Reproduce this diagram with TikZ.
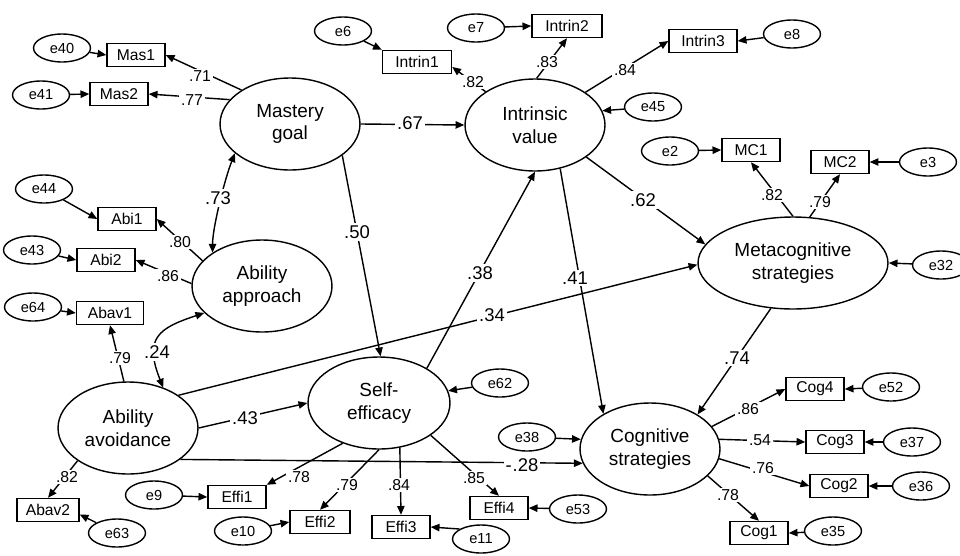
\documentclass[tikz,border=0pt]{standalone}
\usepackage{fontspec}
\setmainfont{Liberation Sans}
\usetikzlibrary{arrows.meta,shapes.geometric}

\tikzset{
  latent/.style={ellipse, draw, line width=0.8pt, inner sep=0pt,
    minimum width=2.8cm, minimum height=1.84cm, align=center,
    font=\fontsize{10.8}{12.8}\selectfont},
  errvar/.style={ellipse, draw, line width=0.8pt, inner sep=0pt,
    minimum width=1.14cm, minimum height=0.56cm,
    font=\fontsize{8.3}{10}\selectfont},
  obsbox/.style={rectangle, draw, line width=0.8pt, inner sep=0pt,
    minimum width=1.16cm, minimum height=0.46cm,
    font=\fontsize{8.9}{10}\selectfont},
  regarrow/.style={line width=0.8pt, -{Triangle[length=5pt,width=4.2pt]}},
  covarrow/.style={line width=0.8pt,
    {Triangle[length=5pt,width=4.2pt]}-{Triangle[length=5pt,width=4.2pt]}},
  coeflab/.style={fill=white, inner sep=1.2pt, font=\fontsize{10.5}{12}\selectfont},
  loadlab/.style={fill=white, inner sep=1pt, font=\fontsize{9}{10}\selectfont},
}

\begin{document}
\begin{tikzpicture}[x=0.02cm, y=-0.02cm]
\useasboundingbox (0,0) rectangle (960,555);

% latent constructs
\node[latent] (mastery)   at (290,124) {Mastery\\goal};
\node[latent] (intrinsic) at (535,125) {Intrinsic\\value};
\node[latent, minimum width=3.8cm] (meta) at (793,263) {Metacognitive\\strategies};
\node[latent] (approach)  at (262,286) {Ability\\approach};
\node[latent] (avoid)     at (128,428) {Ability\\avoidance};
\node[latent, minimum width=2.84cm] (selfeff) at (379,403) {Self-\\efficacy};
\node[latent] (cognitive) at (650,449) {Cognitive\\strategies};

% observed indicators
\node[obsbox] (mas1) at (136,55) {Mas1};
\node[obsbox] (mas2) at (119,94) {Mas2};
\node[obsbox, minimum width=1.38cm] (intrin1) at (417,62) {Intrin1};
\node[obsbox, minimum width=1.40cm] (intrin2) at (567,26) {Intrin2};
\node[obsbox, minimum width=1.36cm] (intrin3) at (703,41) {Intrin3};
\node[obsbox] (mc1) at (751,150) {MC1};
\node[obsbox] (mc2) at (840,162) {MC2};
\node[obsbox] (abi1) at (127,219) {Abi1};
\node[obsbox] (abi2) at (106,260) {Abi2};
\node[obsbox, minimum width=1.34cm] (abav1) at (110,313) {Abav1};
\node[obsbox, minimum width=1.24cm] (abav2) at (48,510) {Abav2};
\node[obsbox] (effi1) at (237,497) {Effi1};
\node[obsbox, minimum width=1.2cm] (effi2) at (320,522) {Effi2};
\node[obsbox] (effi3) at (401,527) {Effi3};
\node[obsbox] (effi4) at (499,508) {Effi4};
\node[obsbox] (cog4) at (815,389) {Cog4};
\node[obsbox] (cog3) at (835,442) {Cog3};
\node[obsbox] (cog2) at (839,486) {Cog2};
\node[obsbox] (cog1) at (759,533) {Cog1};

% error terms
\node[errvar] (e40) at (62,48) {e40};
\node[errvar] (e41) at (41,95) {e41};
\node[errvar] (e6)  at (343,31) {e6};
\node[errvar] (e7)  at (476,28) {e7};
\node[errvar] (e8)  at (792,34) {e8};
\node[errvar] (e45) at (653,107) {e45};
\node[errvar] (e2)  at (670,151) {e2};
\node[errvar] (e3)  at (928,162) {e3};
\node[errvar] (e32) at (941,265) {e32};
\node[errvar] (e44) at (44,189) {e44};
\node[errvar] (e43) at (32,250) {e43};
\node[errvar] (e64) at (33,307) {e64};
\node[errvar] (e63) at (117,533) {e63};
\node[errvar] (e9)  at (154,495) {e9};
\node[errvar] (e10) at (243,531) {e10};
\node[errvar] (e11) at (481,539) {e11};
\node[errvar] (e53) at (578,509) {e53};
\node[errvar] (e62) at (500,383) {e62};
\node[errvar] (e38) at (527,437) {e38};
\node[errvar] (e52) at (891,387) {e52};
\node[errvar] (e37) at (912,442) {e37};
\node[errvar] (e36) at (921,486) {e36};
\node[errvar] (e35) at (833,531) {e35};

% measurement paths
\draw[regarrow] (mastery.145) -- (mas1.east);
\draw[regarrow] (mastery.158) -- (mas2.east);
\draw[regarrow] (intrinsic.146) -- (intrin1.-8);
\draw[regarrow] (intrinsic.88) -- (intrin2.south);
\draw[regarrow] (intrinsic.33) -- (intrin3.west);
\draw[regarrow] (meta.90) -- (mc1.south);
\draw[regarrow] (meta.70) -- (mc2.south);
\draw[regarrow] (approach.157) -- (abi1.east);
\draw[regarrow] (approach.178) -- (abi2.east);
\draw[regarrow] (avoid.95) -- (abav1.south);
\draw[regarrow] (avoid.213) -- (abav2.north);
\draw[regarrow] (selfeff.228) -- (effi1.north east);
\draw[regarrow] (selfeff.270) -- (effi2.north);
\draw[regarrow] (selfeff.295) -- (effi3.north);
\draw[regarrow] (selfeff.328) -- (effi4.north);
\draw[regarrow] (cognitive.20) -- (cog4.west);
\draw[regarrow] (cognitive.8) -- (cog3.west);
\draw[regarrow] (cognitive.-8) -- (cog2.west);
\draw[regarrow] (cognitive.-25) -- (cog1.north);

% structural paths and correlations
\draw[regarrow] (mastery.east) -- (intrinsic.west);
\draw[regarrow] (mastery.329) -- (selfeff.88);
\draw[covarrow] (mastery.208) .. controls +(-10,25) and +(0,-25) .. (approach.146);
\draw[covarrow] (avoid.49) .. controls +(-20,-50) and +(-45,15) .. (approach.205);
\draw[regarrow] (avoid.east) -- (selfeff.west);
\draw[regarrow] (avoid.33) -- (meta.181);
\draw[regarrow] (avoid.-31) -- (cognitive.192);
\draw[regarrow] (selfeff.36) -- (intrinsic.270);
\draw[regarrow] (intrinsic.328) -- (meta.168);
\draw[regarrow] (intrinsic.300) -- (cognitive.143);
\draw[regarrow] (meta.244) -- (cognitive.36);

% error arrows
\draw[regarrow] (e40) -- (mas1.west);
\draw[regarrow] (e41) -- (mas2.west);
\draw[regarrow] (e6) -- (intrin1.north west);
\draw[regarrow] (e7) -- (intrin2.west);
\draw[regarrow] (e8) -- (intrin3.east);
\draw[regarrow] (e45) -- (intrinsic.12);
\draw[regarrow] (e2) -- (mc1.west);
\draw[regarrow] (e3) -- (mc2.east);
\draw[regarrow] (e32) -- (meta.east);
\draw[regarrow] (e44) -- (abi1.west);
\draw[regarrow] (e43) -- (abi2.west);
\draw[regarrow] (e64) -- (abav1.west);
\draw[regarrow] (e63) -- (abav2.-8);
\draw[regarrow] (e9) -- (effi1.west);
\draw[regarrow] (e10) -- (effi2.west);
\draw[regarrow] (e11.155) -- (effi3.east);
\draw[regarrow] (e53) -- (effi4.east);
\draw[regarrow] (e62) -- (selfeff.10);
\draw[regarrow] (e38) -- (cognitive.172);
\draw[regarrow] (e52) -- (cog4.east);
\draw[regarrow] (e37) -- (cog3.east);
\draw[regarrow] (e36) -- (cog2.east);
\draw[regarrow] (e35) -- (cog1.east);

% coefficients
\node[loadlab] (kmas1)    at (200,76)  {.71};
\node[loadlab] (kmas2)    at (192,100) {.77};
\node[loadlab] (kintrin1) at (473,82)  {.82};
\node[loadlab] (kintrin2) at (547,62)  {.83};
\node[loadlab] (kintrin3) at (625,70)  {.84};
\node[loadlab] (kabi1)    at (180,242) {.80};
\node[loadlab] (kabi2)    at (168,276) {.86};
\node[loadlab] (kabav1)   at (120,358) {.79};
\node[loadlab] (kabav2)   at (67,477)  {.82};
\node[loadlab] (kmc1)     at (772,195) {.82};
\node[loadlab] (kmc2)     at (820,202) {.79};
\node[loadlab] (kcog4)    at (748,409) {.86};
\node[loadlab] (kcog3)    at (760,440) {.54};
\node[loadlab] (kcog2)    at (763,468) {.76};
\node[loadlab] (kcog1)    at (728,495) {.78};
\node[loadlab] (keffi1)   at (299,477) {.78};
\node[loadlab] (keffi2)   at (347,485) {.79};
\node[loadlab] (keffi3)   at (399,485) {.84};
\node[loadlab] (keffi4)   at (474,478) {.85};

\node[coeflab] (kmi)  at (410,123) {.67};
\node[coeflab] (kmap) at (218,198) {.73};
\node[coeflab] (kms)  at (357,232) {.50};
\node[coeflab] (kaa)  at (157,352) {.24};
\node[coeflab] (kas)  at (245,418) {.43};
\node[coeflab] (kam)  at (492,315) {.34};
\node[coeflab] (ksi)  at (480,273) {.38};
\node[coeflab] (kic)  at (575,278) {.41};
\node[coeflab] (kim)  at (643,200) {.62};
\node[coeflab] (kmcg) at (737,358) {.74};
\node[coeflab] (kac)  at (522,465) {-\kern0.5pt.28};
\end{tikzpicture}
\end{document}
